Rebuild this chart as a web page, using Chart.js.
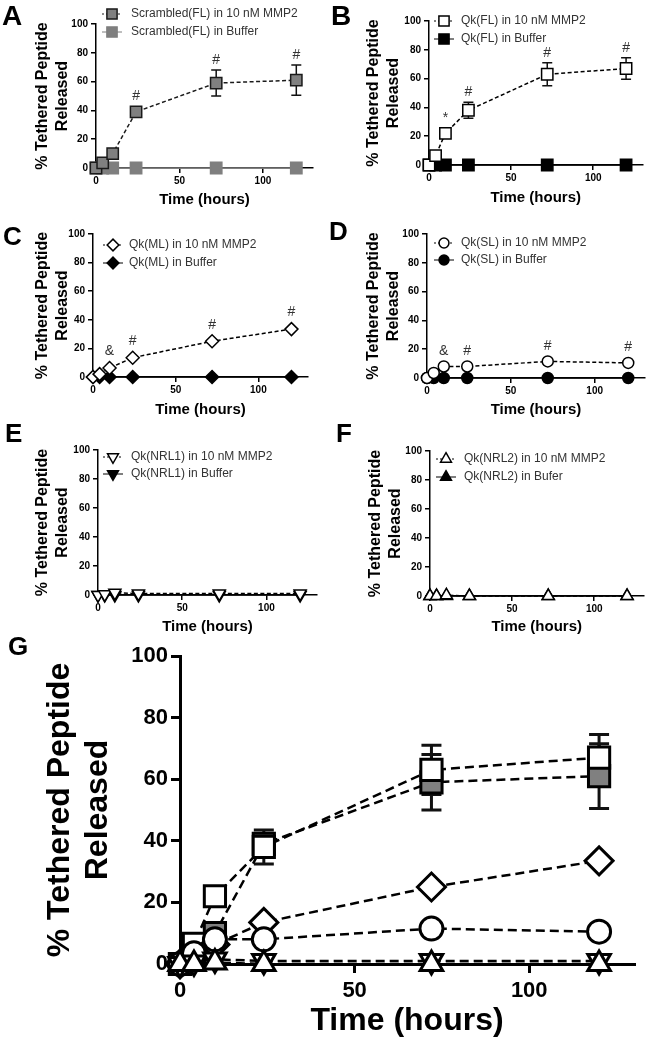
<!DOCTYPE html>
<html>
<head>
<meta charset="utf-8">
<script src="https://cdn.jsdelivr.net/npm/chart.js@4.4.1/dist/chart.umd.min.js"></script>
<style>
  html, body { margin: 0; padding: 0; background: #fff; }
  #fig { position: relative; width: 652px; height: 1050px; overflow: hidden; }
  #fig canvas { position: absolute; }
</style>
</head>
<body>
<div id="fig"></div>
<script>
// time points (hours)
const hours = [0, 4, 10, 24, 72, 120];

// % tethered peptide released in 10 nM MMP2 (mean, +/- error)
const scrambledMMP2 = [0, 3.5, 10, 39, 59, 61];
const scrambledErr  = [0, 0, 0, 0, 9, 10.5];
const flMMP2        = [0, 6.5, 22, 38, 63, 67];
const flErr         = [0, 0, 0, 5.5, 8, 7.5];
const mlMMP2        = [0, 2, 6.3, 13.5, 25, 33.5];
const slMMP2        = [0, 3.5, 8, 8, 11.5, 10.5];
const nrl1MMP2      = [0, 0.5, 1.5, 1, 1, 1];
const nrl2MMP2      = [0, 0, 0.5, 0, 0, 0];

// buffer controls
const scrambledBuf = [0, 0, 0, 0, 0, 0];
const flBuf        = [0, 0, 0, 0, 0, 0];
const mlBuf        = [0, 0, 0, 0, 0, 0];
const slBuf        = [0, 0, 0, 0, 0, 0];
const nrl1Buf      = [0, 0, 0, 0, 0, 0];
const nrl2Buf      = [0, 0, 0, 0, 0, 0];

// significance marks above the MMP2 points
const marksA = ['', '', '', '#', '#', '#'];
const marksB = ['', '', '*', '#', '#', '#'];
const marksC = ['', '', '&', '#', '#', '#'];
const marksD = ['', '', '&', '#', '#', '#'];

// tick labels
const xTicks = [0, 50, 100];
const yTicks = [0, 20, 40, 60, 80, 100];

const FF = '"Liberation Sans", Arial, Helvetica, sans-serif';
Chart.defaults.font.family = FF;
Chart.defaults.color = '#000';

const shapes = {
  square:  { pointStyle: 'rect',     rot: 0,   r: 8,   R: 15 },
  diamond: { pointStyle: 'rectRot',  rot: 0,   r: 6.5, R: 14 },
  circle:  { pointStyle: 'circle',   rot: 0,   r: 5.5, R: 11.5 },
  down:    { pointStyle: 'triangle', rot: 180, r: 7,   R: 13 },
  up:      { pointStyle: 'triangle', rot: 0,   r: 7,   R: 13 }
};

function series(label, vals, err, shape, fill, edge, dashed, big, order) {
  const s = shapes[shape];
  return {
    label,
    data: hours.map((h, i) => ({ x: h, y: vals[i] })),
    err,
    order: order || 0,
    showLine: true,
    tension: 0,
    clip: false,
    borderColor: edge,
    borderWidth: big ? 2.5 : 1.5,
    borderDash: dashed ? (big ? [9, 5] : [4, 2.5]) : [],
    pointStyle: s.pointStyle,
    pointRotation: s.rot,
    pointRadius: big ? s.R : s.r,
    pointHoverRadius: big ? s.R : s.r,
    pointBackgroundColor: fill,
    pointBorderColor: edge,
    pointBorderWidth: big ? 3 : 1.5
  };
}

// error bars, drawn under the markers
const errorBars = {
  id: 'errorBars',
  beforeDatasetsDraw(chart, args, opts) {
    const { ctx, scales: { x, y } } = chart;
    chart.data.datasets.forEach(ds => {
      if (!ds.err) return;
      ctx.save();
      ctx.strokeStyle = '#111';
      ctx.lineWidth = opts.width;
      ctx.setLineDash([]);
      ds.data.forEach((p, i) => {
        const e = ds.err[i];
        if (!e) return;
        const px = x.getPixelForValue(p.x);
        const yt = y.getPixelForValue(p.y + e);
        const yb = y.getPixelForValue(p.y - e);
        ctx.beginPath();
        ctx.moveTo(px, yt); ctx.lineTo(px, yb);
        ctx.moveTo(px - opts.cap, yt); ctx.lineTo(px + opts.cap, yt);
        ctx.moveTo(px - opts.cap, yb); ctx.lineTo(px + opts.cap, yb);
        ctx.stroke();
      });
      ctx.restore();
    });
  }
};

// #, * and & above the MMP2 series
const sigMarks = {
  id: 'sigMarks',
  afterDatasetsDraw(chart, args, opts) {
    if (!opts.labels) return;
    const { ctx, scales: { x, y } } = chart;
    const ds = chart.data.datasets[0];
    const half = ds.pointStyle === 'rect' ? ds.pointRadius * Math.SQRT1_2 : ds.pointRadius;
    ctx.save();
    ctx.fillStyle = '#333';
    ctx.font = '14px ' + FF;
    ctx.textAlign = 'center';
    ctx.textBaseline = 'middle';
    opts.labels.forEach((s, i) => {
      if (!s) return;
      const p = ds.data[i];
      const e = ds.err ? ds.err[i] : 0;
      const top = Math.min(y.getPixelForValue(p.y + e), y.getPixelForValue(p.y) - half);
      ctx.fillText(s, x.getPixelForValue(p.x), top - 10);
    });
    ctx.restore();
  }
};

// legend drawn inside the plot, GraphPad style
const insideLegend = {
  id: 'insideLegend',
  afterDraw(chart, args, opts) {
    if (opts.dx === undefined) return;
    const { ctx, chartArea: a } = chart;
    chart.data.datasets.forEach((ds, i) => {
      const cx = a.left + opts.dx;
      const cy = a.top + opts.dy + i * opts.row;
      ctx.save();
      ctx.strokeStyle = ds.borderColor;
      ctx.lineWidth = 1;
      ctx.setLineDash(ds.borderDash.length ? [2, 2] : []);
      ctx.beginPath();
      ctx.moveTo(cx - 10, cy); ctx.lineTo(cx + 10, cy);
      ctx.stroke();
      ctx.setLineDash([]);
      ctx.fillStyle = ds.pointBackgroundColor;
      ctx.strokeStyle = ds.pointBorderColor;
      ctx.lineWidth = ds.pointBorderWidth;
      Chart.helpers.drawPoint(ctx, {
        pointStyle: ds.pointStyle, rotation: ds.pointRotation,
        radius: ds.pointRadius * 0.9, borderWidth: ds.pointBorderWidth
      }, cx, cy);
      ctx.fillStyle = '#333';
      ctx.font = '12px ' + FF;
      ctx.textAlign = 'left';
      ctx.textBaseline = 'middle';
      ctx.fillText(ds.label, a.left + opts.tx, cy);
      ctx.restore();
    });
  }
};

const panelLetter = {
  id: 'panelLetter',
  afterDraw(chart, args, opts) {
    if (!opts.text) return;
    const ctx = chart.ctx;
    ctx.save();
    ctx.fillStyle = '#000';
    ctx.font = 'bold ' + opts.size + 'px ' + FF;
    ctx.textBaseline = 'alphabetic';
    ctx.fillText(opts.text, opts.x, opts.y);
    ctx.restore();
  }
};

const fig = document.getElementById('fig');

function panel(cfg) {
  const c = document.createElement('canvas');
  c.width = cfg.w; c.height = cfg.h;
  c.style.left = cfg.x + 'px'; c.style.top = cfg.y + 'px';
  fig.appendChild(c);
  const big = !!cfg.big;
  const tickFont = { size: big ? 22 : 10, weight: 'bold' };
  const titleFont = { size: big ? 32 : 16, weight: 'bold', lineHeight: 1.2 };
  const xTitleFont = { size: big ? 32 : 15, weight: 'bold', lineHeight: 1.2 };
  const lw = big ? 3 : 1.5;
  new Chart(c, {
    type: 'scatter',
    data: { datasets: cfg.datasets },
    options: {
      responsive: false,
      animation: false,
      events: [],
      devicePixelRatio: 1,
      layout: { padding: { left: 0, top: cfg.area.t - cfg.y, right: cfg.x + cfg.w - cfg.area.r, bottom: 0 } },
      plugins: {
        legend: { display: false },
        tooltip: { enabled: false },
        errorBars: { width: big ? 3 : 1.5, cap: big ? 10 : 5 },
        sigMarks: { labels: cfg.marks },
        insideLegend: cfg.legend || {},
        panelLetter: cfg.letter
      },
      scales: {
        x: {
          type: 'linear', min: 0, max: 130,
          afterBuildTicks: s => { s.ticks = xTicks.map(v => ({ value: v })); },
          afterFit: s => { s.height = cfg.y + cfg.h - cfg.area.b; },
          ticks: { font: tickFont, color: '#000', padding: big ? 5 : 2, autoSkip: false, maxRotation: 0 },
          grid: { drawOnChartArea: false, drawTicks: true, tickLength: big ? 9 : 5, color: '#000', lineWidth: lw },
          border: { color: '#000', width: lw },
          title: { display: true, text: 'Time (hours)', font: xTitleFont, color: '#000',
                   padding: { top: 0, bottom: cfg.xTitlePad } }
        },
        y: {
          type: 'linear', min: 0, max: 100,
          afterBuildTicks: s => { s.ticks = yTicks.map(v => ({ value: v })); },
          afterFit: s => { s.width = cfg.area.l - cfg.x; },
          ticks: { font: tickFont, color: '#000', padding: 3, autoSkip: false },
          grid: { drawOnChartArea: false, drawTicks: true, tickLength: big ? 9 : 5, color: '#000', lineWidth: lw },
          border: { color: '#000', width: lw },
          title: { display: true, text: ['% Tethered Peptide', 'Released'], font: titleFont, color: '#000',
                   padding: { top: cfg.yTitlePad, bottom: 0 } }
        }
      }
    },
    plugins: [errorBars, sigMarks, insideLegend, panelLetter]
  });
}

// A
panel({
  x: 0, y: 0, w: 326, h: 212, area: { l: 96, t: 24, r: 313, b: 168 },
  yTitlePad: 33.4, xTitlePad: 3,
  letter: { text: 'A', x: 2, y: 25, size: 28 },
  legend: { dx: 16, dy: -10, row: 18, tx: 35 },
  marks: marksA,
  datasets: [
    series('Scrambled(FL) in 10 nM MMP2', scrambledMMP2, scrambledErr, 'square', '#808080', '#1a1a1a', true),
    series('Scrambled(FL) in Buffer', scrambledBuf, null, 'square', '#7f7f7f', '#7f7f7f', false)
  ]
});

// B
panel({
  x: 326, y: 0, w: 326, h: 212, area: { l: 429, t: 21, r: 647, b: 165 },
  yTitlePad: 38.4, xTitlePad: 5,
  letter: { text: 'B', x: 5, y: 25, size: 28 },
  legend: { dx: 15, dy: 0, row: 18, tx: 32 },
  marks: marksB,
  datasets: [
    series('Qk(FL) in 10 nM MMP2', flMMP2, flErr, 'square', '#fff', '#000', true),
    series('Qk(FL) in Buffer', flBuf, null, 'square', '#000', '#000', false)
  ]
});

// C
panel({
  x: 0, y: 212, w: 326, h: 215, area: { l: 93, t: 234, r: 308, b: 377 },
  yTitlePad: 33.4, xTitlePad: 8,
  letter: { text: 'C', x: 3, y: 33, size: 26 },
  legend: { dx: 20, dy: 11, row: 18, tx: 36 },
  marks: marksC,
  datasets: [
    series('Qk(ML) in 10 nM MMP2', mlMMP2, null, 'diamond', '#fff', '#000', true),
    series('Qk(ML) in Buffer', mlBuf, null, 'diamond', '#000', '#000', false)
  ]
});

// D
panel({
  x: 326, y: 212, w: 326, h: 215, area: { l: 427, t: 234, r: 645, b: 378 },
  yTitlePad: 38.4, xTitlePad: 8,
  letter: { text: 'D', x: 3, y: 28, size: 26 },
  legend: { dx: 17, dy: 9, row: 17, tx: 34 },
  marks: marksD,
  datasets: [
    series('Qk(SL) in 10 nM MMP2', slMMP2, null, 'circle', '#fff', '#000', true),
    series('Qk(SL) in Buffer', slBuf, null, 'circle', '#000', '#000', false)
  ]
});

// E
panel({
  x: 0, y: 412, w: 326, h: 228, area: { l: 98, t: 450, r: 317, b: 595 },
  yTitlePad: 33.4, xTitlePad: 4,
  letter: { text: 'E', x: 5, y: 30, size: 26 },
  legend: { dx: 15, dy: 7, row: 17, tx: 33 },
  datasets: [
    series('Qk(NRL1) in 10 nM MMP2', nrl1MMP2, null, 'down', '#fff', '#000', true),
    series('Qk(NRL1) in Buffer', nrl1Buf, null, 'down', '#000', '#000', false)
  ]
});

// F
panel({
  x: 326, y: 412, w: 326, h: 228, area: { l: 430, t: 451, r: 651, b: 596 },
  yTitlePad: 40.4, xTitlePad: 4,
  letter: { text: 'F', x: 10, y: 30, size: 26 },
  legend: { dx: 16, dy: 8, row: 18, tx: 34 },
  datasets: [
    series('Qk(NRL2) in 10 nM MMP2', nrl2MMP2, null, 'up', '#fff', '#000', true),
    series('Qk(NRL2) in Bufer', nrl2Buf, null, 'up', '#000', '#000', false)
  ]
});

// G: all MMP2 series together, later series on top
panel({
  x: 0, y: 620, w: 652, h: 430, area: { l: 180, t: 656, r: 642, b: 964 },
  big: true,
  yTitlePad: 40.8, xTitlePad: 9.8,
  letter: { text: 'G', x: 8, y: 35, size: 26 },
  datasets: [
    series('Scrambled(FL)', scrambledMMP2, scrambledErr, 'square', '#808080', '#000', true, true, 5),
    series('Qk(FL)', flMMP2, flErr, 'square', '#fff', '#000', true, true, 4),
    series('Qk(ML)', mlMMP2, null, 'diamond', '#fff', '#000', true, true, 3),
    series('Qk(SL)', slMMP2, null, 'circle', '#fff', '#000', true, true, 2),
    series('Qk(NRL1)', nrl1MMP2, null, 'down', '#fff', '#000', true, true, 1),
    series('Qk(NRL2)', nrl2MMP2, null, 'up', '#fff', '#000', true, true, 0)
  ]
});
</script>
</body>
</html>
